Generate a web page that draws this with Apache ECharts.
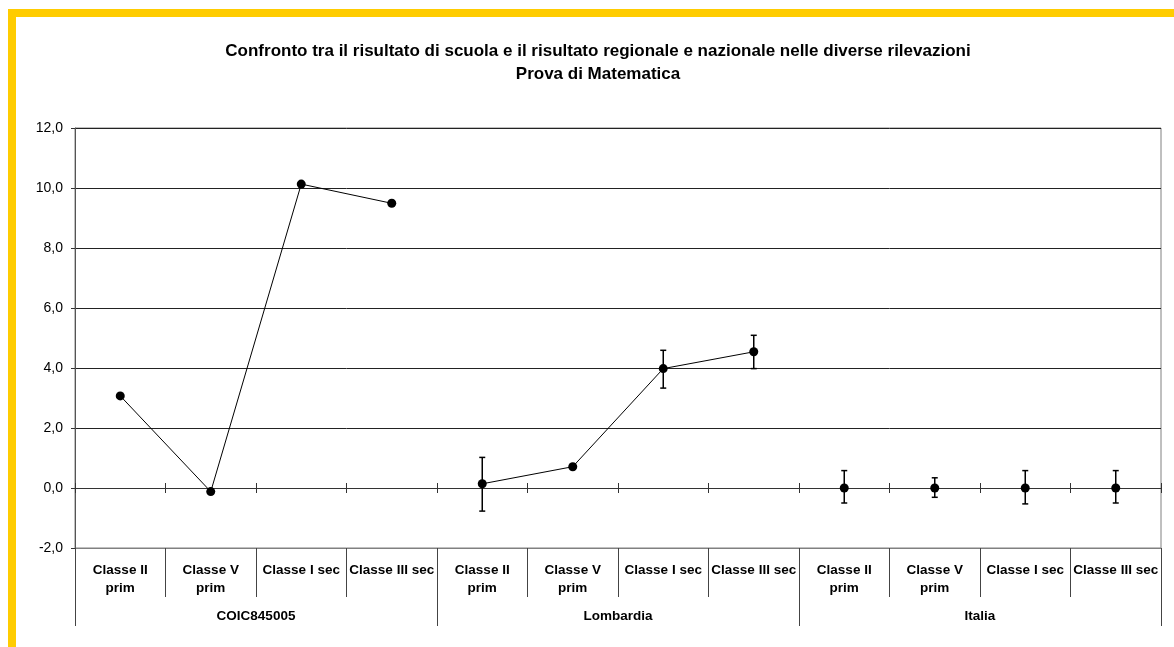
<!DOCTYPE html>
<html>
<head>
<meta charset="utf-8">
<script src="https://cdn.jsdelivr.net/npm/echarts@6/dist/echarts.min.js"></script>
<style>
html,body{margin:0;padding:0;background:#fff;}
#chart{width:1174px;height:647px;}
</style>
</head>
<body>
<div id="chart"></div>
<script>
var titleLines = ['Confronto tra il risultato di scuola e il risultato regionale e nazionale nelle diverse rilevazioni', 'Prova di Matematica'];
var categories = ['Classe II prim', 'Classe V prim', 'Classe I sec', 'Classe III sec',
                  'Classe II prim', 'Classe V prim', 'Classe I sec', 'Classe III sec',
                  'Classe II prim', 'Classe V prim', 'Classe I sec', 'Classe III sec'];
var groups = ['COIC845005', 'Lombardia', 'Italia'];
var yTicks = [-2, 0, 2, 4, 6, 8, 10, 12];
var scuola    = [3.07, -0.12, 10.13, 9.49, null, null, null, null, null, null, null, null];
var regione   = [null, null, null, null, 0.14, 0.71, 3.98, 4.54, null, null, null, null];
var nazione   = [null, null, null, null, null, null, null, null, 0.0, 0.0, 0.0, 0.0];
var errLow    = [null, null, null, null, -0.77, null, 3.33, 3.98, -0.50, -0.31, -0.53, -0.50];
var errHigh   = [null, null, null, null, 1.02, null, 4.59, 5.09, 0.58, 0.34, 0.58, 0.58];

var errData = [];
for (var i = 0; i < categories.length; i++) {
  if (errLow[i] != null && errHigh[i] != null) errData.push([i, errLow[i], errHigh[i]]);
}

var chart = echarts.init(document.getElementById('chart'), null, {renderer: 'canvas'});
var FONT = 'Arial, "Liberation Sans", sans-serif';
var lineSeries = function (name, data, showLine) {
  return {
    name: name, type: 'line', data: data, xAxisIndex: 0, yAxisIndex: 0,
    symbol: 'circle', symbolSize: 9, showSymbol: true, connectNulls: false,
    itemStyle: {color: '#000'},
    lineStyle: showLine ? {color: '#000', width: 1} : {color: '#000', width: 0, opacity: 0},
    z: 5
  };
};

chart.setOption({
  animation: false,
  backgroundColor: '#fff',
  grid: {left: 75, top: 128, right: 13, bottom: 99, show: true, borderColor: '#808080', borderWidth: 1, containLabel: false, outerBoundsMode: 'none'},
  graphic: [
    {type: 'rect', shape: {x: 8, y: 9, width: 1166, height: 8}, style: {fill: '#FFCC00'}},
    {type: 'rect', shape: {x: 8, y: 9, width: 8, height: 638}, style: {fill: '#FFCC00'}},
    {type: 'text', x: 598, y: 51, style: {text: titleLines[0], font: 'bold 17px ' + FONT, fill: '#000', textAlign: 'center', textVerticalAlign: 'middle'}},
    {type: 'text', x: 598, y: 74, style: {text: titleLines[1], font: 'bold 17px ' + FONT, fill: '#000', textAlign: 'center', textVerticalAlign: 'middle'}}
  ],
  xAxis: [
    {
      type: 'category', data: categories, boundaryGap: true, position: 'bottom',
      axisLine: {show: true, onZero: true, lineStyle: {color: '#333', width: 1}},
      axisTick: {show: true, interval: 0, length: 5, lineStyle: {color: '#333'}},
      axisLabel: {show: false}, splitLine: {show: false}
    },
    {
      type: 'category', data: categories, boundaryGap: true, position: 'bottom',
      axisLine: {show: true, onZero: true, onZeroAxisIndex: 0, lineStyle: {color: '#333', width: 1}},
      axisTick: {show: true, inside: true, interval: 0, length: 5, lineStyle: {color: '#333'}},
      axisLabel: {show: false}, splitLine: {show: false}
    },
    {
      type: 'category', data: categories, position: 'bottom', boundaryGap: true,
      axisLine: {show: true, onZero: false, lineStyle: {color: '#808080'}},
      axisTick: {show: true, interval: 0, length: 49, lineStyle: {color: '#444'}},
      axisLabel: {
        show: true, interval: 0, margin: 13, color: '#000', fontFamily: FONT, fontWeight: 'bold', fontSize: 13.5, lineHeight: 18,
        formatter: function (v) { return v.replace(' prim', '\nprim'); }
      },
      splitLine: {show: false}
    },
    {
      type: 'category', data: groups, position: 'bottom', boundaryGap: true,
      axisLine: {show: false, onZero: false},
      axisTick: {show: true, interval: 0, length: 78, lineStyle: {color: '#444'}},
      axisLabel: {show: true, interval: 0, margin: 60, color: '#000', fontFamily: FONT, fontWeight: 'bold', fontSize: 13.5, lineHeight: 16},
      splitLine: {show: false}
    }
  ],
  yAxis: {
    type: 'value', min: yTicks[0], max: yTicks[yTicks.length - 1], interval: 2,
    axisLine: {show: true, lineStyle: {color: '#555'}},
    axisTick: {show: true, length: 4, lineStyle: {color: '#333'}},
    axisLabel: {margin: 12, color: '#000', fontFamily: FONT, fontSize: 14,
      formatter: function (v) { return v.toFixed(1).replace('.', ','); }},
    splitLine: {show: true, lineStyle: {color: '#222', width: 1}}
  },
  series: [
    {
      name: 'err', type: 'custom', xAxisIndex: 0, yAxisIndex: 0, data: errData, z: 3,
      renderItem: function (params, api) {
        var x = api.value(0);
        var lo = api.coord([x, api.value(1)]);
        var hi = api.coord([x, api.value(2)]);
        var hw = 3;
        var st = {stroke: '#000', lineWidth: 1.5};
        return {type: 'group', children: [
          {type: 'line', shape: {x1: lo[0], y1: lo[1], x2: hi[0], y2: hi[1]}, style: st},
          {type: 'line', shape: {x1: lo[0] - hw, y1: lo[1], x2: lo[0] + hw, y2: lo[1]}, style: st},
          {type: 'line', shape: {x1: hi[0] - hw, y1: hi[1], x2: hi[0] + hw, y2: hi[1]}, style: st}
        ]};
      }
    },
    lineSeries('COIC845005', scuola, true),
    lineSeries('Lombardia', regione, true),
    lineSeries('Italia', nazione, false)
  ]
});
</script>
</body>
</html>
